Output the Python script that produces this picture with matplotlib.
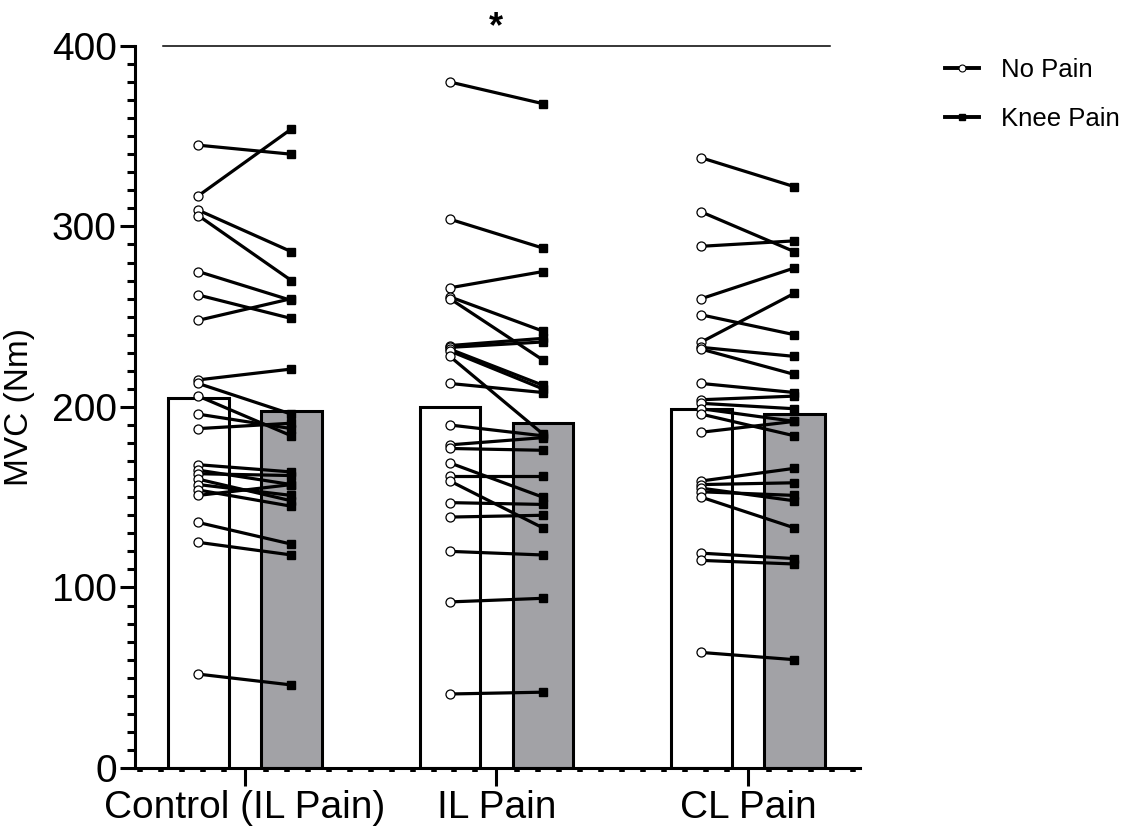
import numpy as np
import matplotlib
matplotlib.use("Agg")
import matplotlib.pyplot as plt
from matplotlib.ticker import MultipleLocator

plt.rcParams['font.family'] = ['Liberation Sans', 'DejaVu Sans']

groups = ["Control (IL Pain)", "IL Pain", "CL Pain"]
bar_no_pain = [205, 200, 199]
bar_knee_pain = [198, 191, 196]

control_no_pain = [345, 317, 309, 306, 275, 262, 248, 215, 213, 206, 196, 188,
                   168, 165, 163, 160, 157, 154, 151, 136, 125, 52]
control_knee_pain = [340, 354, 286, 270, 259, 249, 260, 221, 196, 184, 188, 191,
                     164, 157, 162, 148, 151, 145, 157, 124, 118, 46]

il_no_pain = [380, 304, 266, 261, 260, 234, 233, 232, 231, 228, 213, 190,
              179, 177, 169, 162, 159, 147, 139, 120, 92, 41]
il_knee_pain = [368, 288, 275, 242, 226, 238, 236, 212, 210, 185, 208, 184,
                183, 176, 150, 162, 133, 146, 140, 118, 94, 42]

cl_no_pain = [338, 308, 289, 260, 251, 236, 233, 232, 213, 204, 202, 199,
              196, 186, 159, 157, 155, 153, 150, 119, 115, 64]
cl_knee_pain = [322, 286, 292, 277, 240, 263, 228, 218, 208, 206, 199, 192,
                184, 192, 166, 158, 148, 151, 133, 116, 113, 60]

paired = [(control_no_pain, control_knee_pain),
          (il_no_pain, il_knee_pain),
          (cl_no_pain, cl_knee_pain)]

fig = plt.figure(figsize=(11.38, 8.30), dpi=100)
ax = fig.add_axes([0.1186, 0.0747, 0.637, 0.870])

x = np.arange(len(groups))
off = 0.185
w = 0.24
grey = "#a2a2a6"

ax.bar(x - off, bar_no_pain, width=w, color="white", edgecolor="black",
       linewidth=2.2, zorder=1)
ax.bar(x + off, bar_knee_pain, width=w, color=grey, edgecolor="black",
       linewidth=2.2, zorder=1)

for i, (a, b) in enumerate(paired):
    for va, vb in zip(a, b):
        ax.plot([x[i] - off, x[i] + off], [va, vb], color="black", lw=2.3,
                zorder=2, solid_capstyle="butt")
    ax.plot(np.full(len(a), x[i] - off), a, "o", ms=6.5, mfc="white",
            mec="black", mew=0.9, zorder=3, ls="none")
    ax.plot(np.full(len(b), x[i] + off), b, "s", ms=5.5, mfc="black",
            mec="black", zorder=3, ls="none")

# legend handles
ax.plot([], [], "-o", color="black", lw=2.8, ms=5, mfc="white", mew=0.8,
        label="No Pain")
ax.plot([], [], "-s", color="black", lw=2.8, ms=4.5, label="Knee Pain")
ax.legend(loc="upper left", bbox_to_anchor=(1.085, 1.015), frameon=False,
          fontsize=18.5, handlelength=1.35, handletextpad=0.85,
          labelspacing=0.95)

# significance bar
ax.plot([-0.326, 2.326], [400, 400], color="black", lw=1.1, clip_on=False)
ax.text(1.0, 410, "*", ha="center", va="center", fontsize=26,
        fontweight="bold")

ax.set_xlim(-0.437, 2.445)
ax.set_ylim(0, 400)
ax.set_xticks(x)
ax.set_xticklabels(groups)
ax.xaxis.set_minor_locator(MultipleLocator(1 / 12))
ax.set_yticks([0, 100, 200, 300, 400])
ax.yaxis.set_minor_locator(MultipleLocator(10))
ax.set_ylabel("MVC (Nm)", fontsize=24, labelpad=12)

for s in ["top", "right"]:
    ax.spines[s].set_visible(False)
for s in ["left", "bottom"]:
    ax.spines[s].set_linewidth(2.2)

ax.tick_params(axis="y", which="major", length=11, width=2.2, labelsize=28,
               pad=2)
ax.tick_params(axis="y", which="minor", length=6, width=2.2)
ax.tick_params(axis="x", which="major", length=13, width=2.2, labelsize=28,
               pad=3)
ax.tick_params(axis="x", which="minor", length=3, width=4, direction="out")

fig.savefig("out.png", dpi=100)
